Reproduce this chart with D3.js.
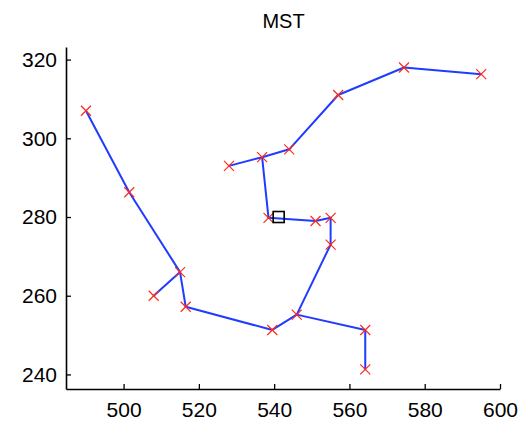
<!DOCTYPE html>
<html>
<head>
<meta charset="utf-8">
<script src="https://cdn.jsdelivr.net/npm/d3@7"></script>
<style>
  body { margin: 0; background: #fff; }
  svg text { font-family: "Liberation Sans", Arial, sans-serif; fill: #000; }
</style>
</head>
<body>
<div id="chart"></div>
<script>
// node positions (x, y)
const nodeX = [490, 501.5, 515, 508, 516.5, 539.5, 546, 564.2, 564.2, 555, 555, 551, 538.5, 536.8, 528, 544, 557, 574.5, 595];
const nodeY = [307, 286.3, 266, 260, 257.2, 251.3, 255.2, 251.3, 241.3, 273, 279.8, 279, 279.8, 295.2, 293, 297.2, 311, 318, 316.3];

// tree edges as pairs of node indices
const edges = [
  [0, 1], [1, 2], [2, 3], [2, 4], [4, 5], [5, 6], [6, 7], [7, 8],
  [6, 9], [9, 10], [10, 11], [11, 12], [12, 13], [13, 14], [13, 15],
  [15, 16], [16, 17], [17, 18]
];

// root marker
const rootX = [541.2];
const rootY = [280];

const xTicks = [500, 520, 540, 560, 580, 600];
const yTicks = [240, 260, 280, 300, 320];

const W = 519, H = 421;

const svg = d3.select('#chart').append('svg')
  .attr('width', W)
  .attr('height', H);

const x = d3.scaleLinear().domain([484.7, 600]).range([66, 500]);
const y = d3.scaleLinear().domain([236.3, 323.2]).range([389, 47]);

// title
svg.append('text')
  .attr('x', 283.5)
  .attr('y', 28)
  .attr('text-anchor', 'middle')
  .style('font-size', '20px')
  .text('MST');

// axes, ticks pointing inward
const gx = svg.append('g')
  .attr('transform', 'translate(0,389)')
  .call(d3.axisBottom(x).tickValues(xTicks).tickSize(-5).tickSizeOuter(0).tickPadding(12));

const gy = svg.append('g')
  .attr('transform', 'translate(66,0)')
  .call(d3.axisLeft(y).tickValues(yTicks).tickSize(-5).tickSizeOuter(0).tickPadding(9));

[gx, gy].forEach((g) => {
  g.select('.domain').attr('stroke', '#000').attr('stroke-width', 1.6);
  g.selectAll('.tick line').attr('stroke', '#000').attr('stroke-width', 1.3);
  g.selectAll('.tick text')
    .style('font-size', '21px')
    .style('font-family', '"Liberation Sans", Arial, sans-serif')
    .attr('fill', '#000');
});
gx.selectAll('.tick text').attr('dy', '0.75em');

// edges
svg.append('g')
  .selectAll('line')
  .data(edges)
  .join('line')
    .attr('x1', d => x(nodeX[d[0]]))
    .attr('y1', d => y(nodeY[d[0]]))
    .attr('x2', d => x(nodeX[d[1]]))
    .attr('y2', d => y(nodeY[d[1]]))
    .attr('stroke', '#1f3cff')
    .attr('stroke-width', 2)
    .attr('stroke-linecap', 'round');

// x markers
const s = 5;
svg.append('g')
  .selectAll('path')
  .data(nodeX.map((v, i) => [v, nodeY[i]]))
  .join('path')
    .attr('d', d => {
      const cx = x(d[0]), cy = y(d[1]);
      return `M${cx - s},${cy - s}L${cx + s},${cy + s}M${cx - s},${cy + s}L${cx + s},${cy - s}`;
    })
    .attr('stroke', '#ff2a1a')
    .attr('stroke-width', 1.2)
    .attr('fill', 'none');

// root square
svg.append('g')
  .selectAll('rect')
  .data(rootX.map((v, i) => [v, rootY[i]]))
  .join('rect')
    .attr('x', d => x(d[0]) - 5.5)
    .attr('y', d => y(d[1]) - 5.5)
    .attr('width', 11)
    .attr('height', 11)
    .attr('fill', 'none')
    .attr('stroke', '#000')
    .attr('stroke-width', 1.6);
</script>
</body>
</html>
